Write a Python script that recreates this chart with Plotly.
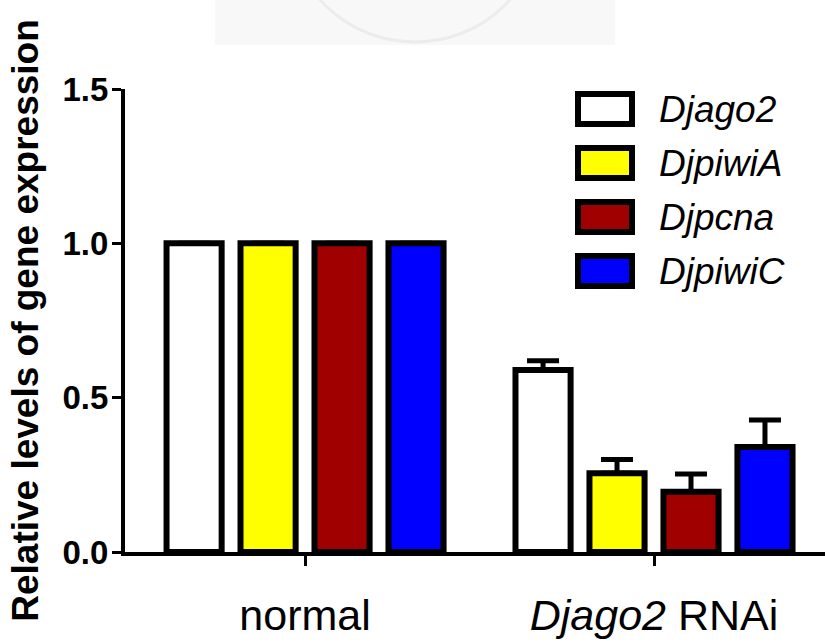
import plotly.graph_objects as go

# ---- data ----
groups = ["normal", "<i>Djago2</i> RNAi"]
series_names = ["Djago2", "DjpiwiA", "Djpcna", "DjpiwiC"]
series_colors = ["#FFFFFF", "#FFFF00", "#A00000", "#0000FF"]
values_normal = [1.0, 1.0, 1.0, 1.0]
values_rnai = [0.59, 0.255, 0.195, 0.34]
err_rnai = [0.03, 0.045, 0.058, 0.088]
y_ticks = [0.0, 0.5, 1.0, 1.5]

FONT = "Liberation Sans, Arial, sans-serif"
W, H = 825, 644
L, R, T, B = 125, 0, 89, 92
PW, PH = W - L - R, H - T - B


def px(x):
    return (x - L) / PW


def py(y):
    return (H - B - y) / PH


fig = go.Figure()
for i, name in enumerate(series_names):
    fig.add_trace(go.Bar(
        x=groups,
        y=[values_normal[i], values_rnai[i]],
        name=name,
        marker=dict(color=series_colors[i], line=dict(color="black", width=6)),
        error_y=dict(type="data", array=[float("nan"), err_rnai[i]],
                     arrayminus=[0, 0], symmetric=False,
                     color="black", thickness=5, width=16),
        showlegend=False,
    ))

shapes = []
annotations = []
# faint watermark at top
shapes.append(dict(type="rect", xref="paper", yref="paper",
                   x0=px(215), x1=px(615), y0=py(45), y1=py(0),
                   fillcolor="#f8f8f8", line=dict(width=0), layer="below"))
shapes.append(dict(type="circle", xref="paper", yref="paper",
                   x0=px(290), x1=px(540), y0=py(42), y1=py(-200),
                   line=dict(color="#ececec", width=3), layer="below"))

# custom legend
row0, step, bh = 109, 54, 30
for i, name in enumerate(series_names):
    cy = row0 + i * step
    shapes.append(dict(type="rect", xref="paper", yref="paper",
                       x0=px(578), x1=px(632), y0=py(cy + bh / 2), y1=py(cy - bh / 2),
                       fillcolor=series_colors[i], line=dict(color="black", width=6)))
    annotations.append(dict(xref="paper", yref="paper", x=px(657), y=py(cy),
                            xanchor="left", yanchor="middle", showarrow=False,
                            text=f"<i>{name}</i>",
                            font=dict(family=FONT, size=37, color="black")))

fig.update_layout(
    width=W, height=H,
    margin=dict(l=L, r=R, t=T, b=B, pad=0),
    paper_bgcolor="white", plot_bgcolor="white",
    barmode="group", bargap=0.152, bargroupgap=0.255,
    shapes=shapes, annotations=annotations,
    xaxis=dict(type="category", range=[-0.516, 1.49],
               showline=True, linecolor="black", linewidth=4,
               ticks="outside", ticklen=10, tickwidth=3, tickcolor="black",
               showgrid=False, zeroline=False,
               tickfont=dict(family=FONT, size=43, color="black"),
               ticklabelstandoff=12),
    yaxis=dict(range=[0, 1.5], tickvals=y_ticks, tickformat=".1f",
               showline=True, linecolor="black", linewidth=4,
               ticks="outside", ticklen=9, tickwidth=3, tickcolor="black",
               showgrid=False, zeroline=False,
               tickfont=dict(family=FONT, size=33, color="black", weight="bold"),
               ticklabelstandoff=-3,
               title=dict(text="Relative levels of gene expression",
                          font=dict(family=FONT, size=37, color="black", weight="bold"),
                          standoff=14)),
)

fig.write_html("out.html")
